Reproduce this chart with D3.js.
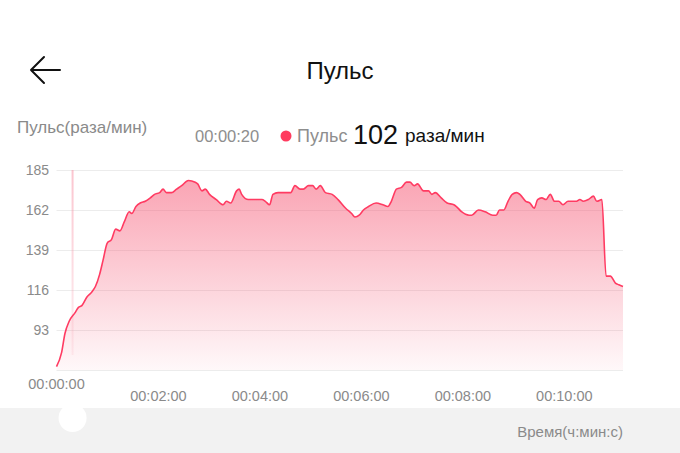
<!DOCTYPE html>
<html>
<head>
<meta charset="utf-8">
<script src="https://cdn.jsdelivr.net/npm/d3@7/dist/d3.min.js"></script>
<style>
  html, body { margin: 0; padding: 0; background: #fff; }
  svg { display: block; font-family: "Liberation Sans", Arial, sans-serif; }
</style>
</head>
<body>
<svg id="chart" width="680" height="453"></svg>
<script>
// ---- data ----
const times = [0,6,10,15,22,26,30,36,42,46,51,55,60,65,70,75,80,86,89,94,99,105,111,116,122,126,130,136,142,148,156,164,167,172,176,181,189,197,201,206,213,216,219,227,235,243,247,252,256,262,277,282,288,292,298,303,307,312,318,326,333,342,349,353,358,363,369,378,386,392,396,402,408,414,418,423,427,434,440,444,448,455,462,470,473,479,488,491,499,507,516,520,524,529,534,539,544,548,555,560,565,569,574,579,584,589,594,599,605,611,615,619,623,629,635,639,645,650,655,661,665,670];
const bpm   = [72,80,91,98,103,106,107,112,115,118,125,133,143,145,151,150,155,161,160,164,166,167,169,171,172,174,172,172,174,176,179,178,177,173,174,171,168,165,167,166,173,174,171,168,168,168,167,165,171,172,172,176,174,174,176,176,174,176,172,171,168,163,160,158,159,162,164,166,165,164,167,174,175,178,178,176,177,173,173,171,172,169,166,165,164,161,159,159,162,161,159,159,162,162,167,171,172,171,167,166,163,168,169,168,171,167,167,165,167,167,167,168,167,168,170,167,168,124,124,120,119,118];
const yTickValues = [93,116,139,162,185];
const gridValues = [70,93,116,139,162,185];
const xTickValues = [120,240,360,480,600];
const xTickLabels = ["00:02:00","00:04:00","00:06:00","00:08:00","00:10:00"];
const startLabel = "00:00:00";
const cursorTime = 19;
const cursorLabel = "00:00:20";
const cursorValue = 102;
const title = "Пульс";
const seriesName = "Пульс";
const unit = "раза/мин";
const yTitle = "Пульс(раза/мин)";
const xTitle = "Время(ч:мин:с)";

const data = times.map((t, i) => ({ t, v: bpm[i] }));

const svg = d3.select("#chart");
const x = d3.scaleLinear().domain([0, 670]).range([56.5, 623]);
const y = d3.scaleLinear().domain([70, 185]).range([370, 170]);

const defs = svg.append("defs");
const grad = defs.append("linearGradient").attr("id", "areaGrad")
  .attr("gradientUnits", "userSpaceOnUse")
  .attr("x1", 0).attr("x2", 0).attr("y1", y(185)).attr("y2", y(70));
grad.append("stop").attr("offset", 0).attr("stop-color", "rgb(246,86,115)").attr("stop-opacity", 0.56);
grad.append("stop").attr("offset", 1).attr("stop-color", "rgb(246,86,115)").attr("stop-opacity", 0.04);

const cgrad = defs.append("linearGradient").attr("id", "cursorGrad")
  .attr("x1", 0).attr("x2", 0).attr("y1", 0).attr("y2", 1);
cgrad.append("stop").attr("offset", 0).attr("stop-color", "rgb(248,140,160)").attr("stop-opacity", 0.5);
cgrad.append("stop").attr("offset", 1).attr("stop-color", "rgb(248,140,160)").attr("stop-opacity", 0.12);

// header
const ah = svg.append("g").attr("stroke", "#111").attr("stroke-width", 2).attr("fill", "none")
  .attr("stroke-linecap", "round").attr("stroke-linejoin", "round");
ah.append("path").attr("d", "M31,70 L60,70 M44,57 L31,70 L44,83");

svg.append("text").attr("x", 340).attr("y", 78.5).attr("text-anchor", "middle")
  .attr("font-size", 24).attr("fill", "#111").text(title);

svg.append("text").attr("x", 17).attr("y", 133).attr("font-size", 17).attr("fill", "#8a8a8a").text(yTitle);

// legend
const lg = svg.append("g");
lg.append("text").attr("x", 195).attr("y", 142).attr("font-size", 16.5).attr("fill", "#8e8e8e").text(cursorLabel);
lg.append("circle").attr("cx", 286).attr("cy", 136).attr("r", 5.5).attr("fill", "#ff3b5f");
lg.append("text").attr("x", 297).attr("y", 142).attr("font-size", 18).attr("fill", "#8e8e8e").text(seriesName);
lg.append("text").attr("x", 353).attr("y", 143.5).attr("font-size", 27).attr("fill", "#111").text(cursorValue);
lg.append("text").attr("x", 405).attr("y", 142).attr("font-size", 19).attr("fill", "#111").text(unit);

// gridlines
const grid = svg.append("g").attr("transform", `translate(${x(0)},0)`)
  .call(d3.axisLeft(y).tickValues(gridValues).tickSize(-(x(670) - x(0))).tickFormat(""));
grid.select(".domain").remove();
grid.selectAll("line").attr("stroke", "#ececec").attr("stroke-width", 1);

// y labels
const yAxis = svg.append("g").attr("transform", `translate(49,0)`)
  .call(d3.axisLeft(y).tickValues(yTickValues).tickSize(0).tickPadding(0));
yAxis.select(".domain").remove();
yAxis.selectAll("text").attr("font-size", 14).attr("fill", "#8a8a8a")
  .attr("font-family", "Liberation Sans, Arial, sans-serif");

// area & line
const area = d3.area().x(d => x(d.t)).y0(y(70)).y1(d => y(d.v)).curve(d3.curveMonotoneX);
const line = d3.line().x(d => x(d.t)).y(d => y(d.v)).curve(d3.curveMonotoneX);
svg.append("path").datum(data).attr("d", area).attr("fill", "url(#areaGrad)");

// cursor line
svg.append("rect").attr("x", x(cursorTime) - 1).attr("y", y(185)).attr("width", 2)
  .attr("height", 355 - y(185)).attr("fill", "url(#cursorGrad)");

svg.append("path").datum(data).attr("d", line).attr("fill", "none")
  .attr("stroke", "#ff3b62").attr("stroke-width", 1.6).attr("stroke-linejoin", "round");

// bottom band and slider
svg.append("rect").attr("x", 0).attr("y", 408).attr("width", 680).attr("height", 45).attr("fill", "#f2f2f2");
const cx = x(cursorTime);
svg.append("path").attr("fill", "#fff")
  .attr("d", `M${cx-32},408 C${cx-18},408 ${cx-16},398 ${cx},398 C${cx+16},398 ${cx+18},408 ${cx+32},408 Z`);
svg.append("circle").attr("cx", cx).attr("cy", 418).attr("r", 14).attr("fill", "#fff");

// x labels
const xAxis = svg.append("g").attr("transform", `translate(0,391)`)
  .call(d3.axisBottom(x).tickValues(xTickValues).tickSize(0).tickPadding(0)
    .tickFormat((d, i) => xTickLabels[i]));
xAxis.select(".domain").remove();
xAxis.selectAll("text").attr("font-size", 14.5).attr("fill", "#8a8a8a")
  .attr("font-family", "Liberation Sans, Arial, sans-serif");

svg.append("text").attr("x", x(0)).attr("y", 389).attr("text-anchor", "middle")
  .attr("font-size", 14.5).attr("fill", "#8a8a8a").text(startLabel);

svg.append("text").attr("x", 623).attr("y", 437).attr("text-anchor", "end")
  .attr("font-size", 15).attr("fill", "#8a8a8a").text(xTitle);
</script>
</body>
</html>
